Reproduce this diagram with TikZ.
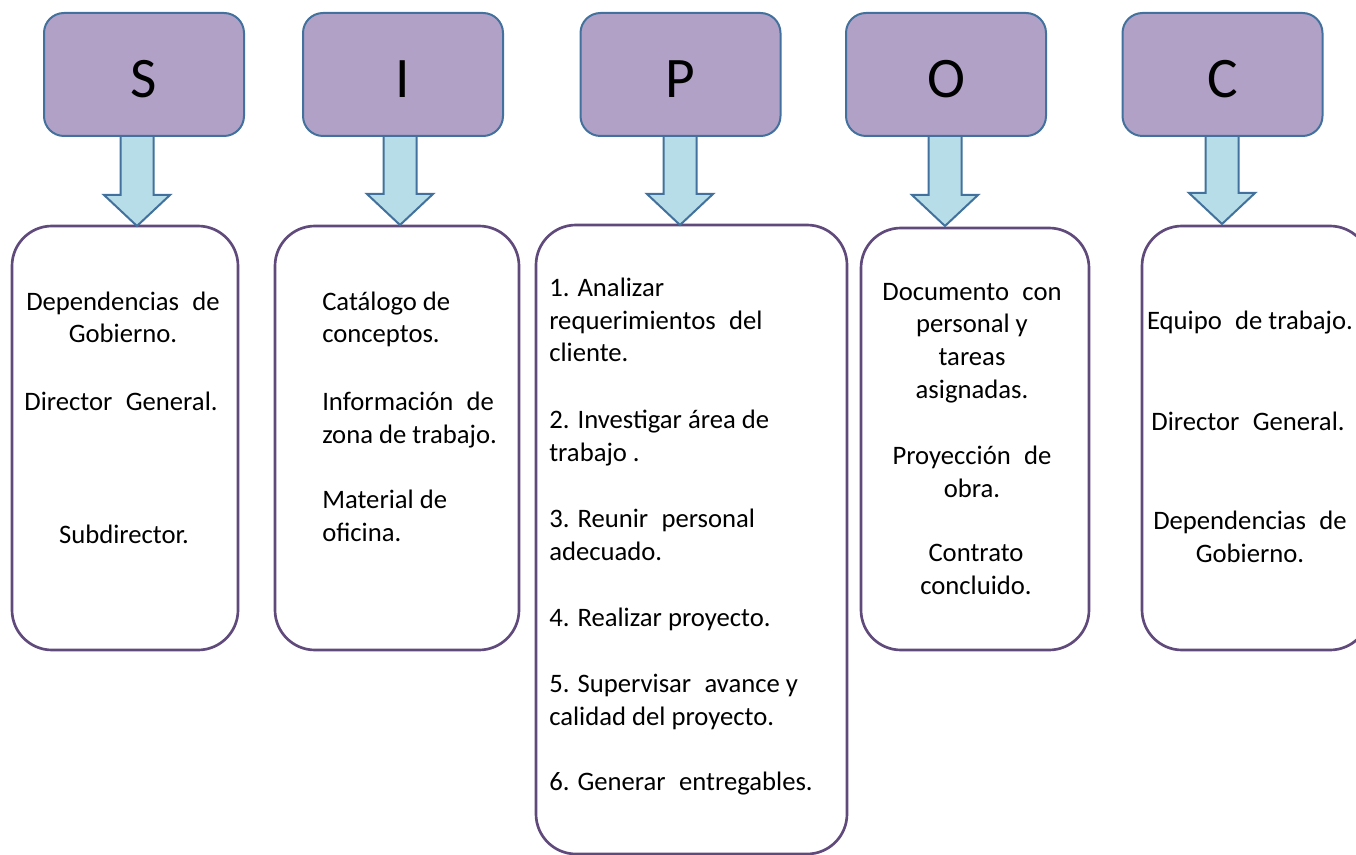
\documentclass[tikz,border=0pt]{standalone}
\usepackage{fontspec}
\setmainfont{Carlito}
\definecolor{hdrfill}{HTML}{B2A1C7}
\definecolor{hdrline}{HTML}{41719C}
\definecolor{arrfill}{HTML}{B7DDE8}
\definecolor{boxline}{HTML}{604A7B}
\tikzset{
  hdr/.style={draw=hdrline,fill=hdrfill,line width=1.5pt,rounded corners=15pt,
    minimum width=200*0.75pt,minimum height=123*0.75pt,inner sep=0pt,
    font=\fontsize{43}{50}\selectfont,text height=34pt,text depth=0pt},
  bbox/.style={draw=boxline,line width=2pt,rounded corners=30pt,inner sep=0pt},
  arrowstyle/.style={draw=hdrline,fill=arrfill,line width=1.5pt,line join=miter},
  txt/.style={font=\fontsize{20}{24.4}\selectfont,inner sep=0pt},
  txtl/.style={txt,align=left,anchor=base west},
  txtc/.style={txt,align=center,anchor=base},
  downarrow/.pic={\draw[arrowstyle] (-16.5,-92) -- (16.5,-92) -- (16.5,-31) -- (33,-31) -- (0,0) -- (-33,-31) -- (-16.5,-31) -- cycle;}
}
\begin{document}
\begin{tikzpicture}[x=0.75pt,y=-0.75pt]
\useasboundingbox (0,0) rectangle (1356,855);
% lower boxes
\node[bbox,minimum width=226*0.75pt,minimum height=424*0.75pt] (sb) at (125,438) {};
\node[bbox,minimum width=244*0.75pt,minimum height=424*0.75pt] (ib) at (397,438) {};
\node[bbox,minimum width=311*0.75pt,minimum height=629*0.75pt] (pb) at (691.5,539.5) {};
\node[bbox,minimum width=228*0.75pt,minimum height=422*0.75pt] (ob) at (975,439) {};
\node[bbox,minimum width=228*0.75pt,minimum height=424*0.75pt] (cb) at (1256,438) {};
% arrows
\path (137,226) pic {downarrow};
\path (400,225) pic {downarrow};
\path (680,225) pic {downarrow};
\path (945,226) pic {downarrow};
\path (1222,224) pic {downarrow};
% headers
\node[hdr] (sh) at (144,74.5) {S};
\node[hdr] (ih) at (403,74.5) {I};
\node[hdr] (ph) at (680.5,74.5) {P};
\node[hdr] (oh) at (946,74.5) {O};
\node[hdr] (ch) at (1222.5,74.5) {C};
% S texts
\node[txtc] (s1) at (123,343) {Dependencias\enspace de\\Gobierno.};
\node[txtc] (s2) at (121,411) {Director\enspace General.};
\node[txtc] (s3) at (124,543) {Subdirector.};
% I texts
\node[txtl] (i1) at (322,343) {Catálogo de\\conceptos.};
\node[txtl] (i2) at (322,443) {Información\enspace de\\zona de trabajo.};
\node[txtl] (i3) at (322,541) {Material de\\oficina.};
% P texts
\node[txtl] (p1) at (549,362) {1. Analizar\\requerimientos\enspace del\\cliente.};
\node[txtl] (p2) at (549,461) {2. Investigar área de\\trabajo\ .};
\node[txtl] (p3) at (549,560) {3. Reunir\enspace personal\\adecuado.};
\node[txtl] (p4) at (549,626) {4. Realizar proyecto.};
\node[txtl] (p5) at (549,725) {5. Supervisar\enspace avance y\\calidad del proyecto.};
\node[txtl] (p6) at (549,790) {6. Generar\enspace entregables.};
% O texts
\node[txtc] (o1) at (972,398) {Documento\enspace con\\personal y\\tareas\\asignadas.};
\node[txtc] (o2) at (972,497) {Proyección\enspace de\\obra.};
\node[txtc] (o3) at (976,594) {Contrato\\concluido.};
% C texts
\node[txtc] (c1) at (1250,330) {Equipo\enspace de trabajo.};
\node[txtc] (c2) at (1248,431) {Director\enspace General.};
\node[txtc] (c3) at (1250,562) {Dependencias\enspace de\\Gobierno.};
\end{tikzpicture}
\end{document}
